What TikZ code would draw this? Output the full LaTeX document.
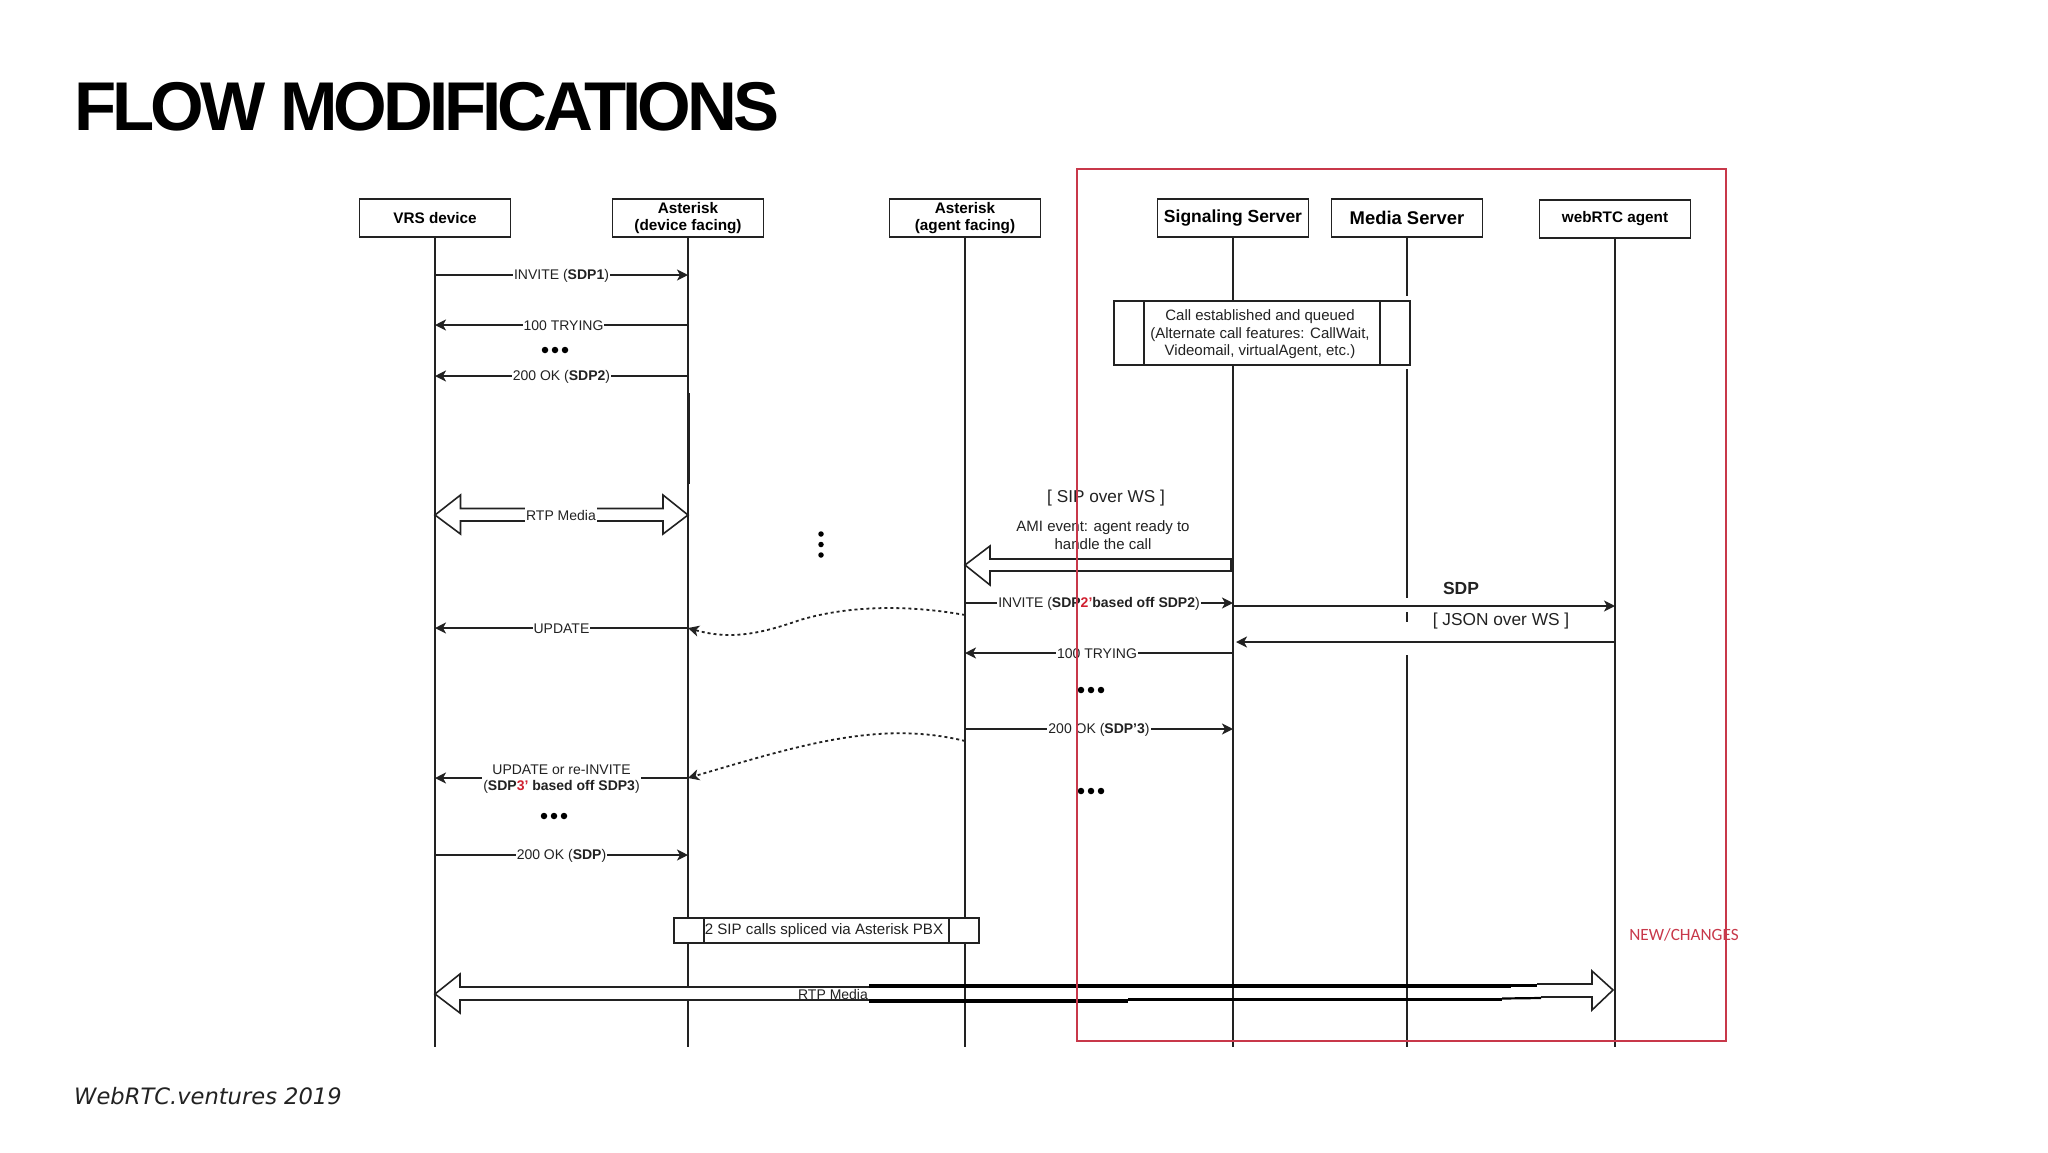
\documentclass[tikz,border=0pt]{standalone}
\usepackage{fontspec}
\setmainfont{Liberation Sans}
\newfontfamily\capfont{DejaVu Sans}
\newfontfamily\chgfont{Carlito}
\usetikzlibrary{arrows.meta}
\definecolor{redbox}{HTML}{C8384A}
\definecolor{ink}{HTML}{222222}
\definecolor{redtxt}{HTML}{D02030}
\tikzset{
  x=1pt,y=-1pt,
  actor/.style={draw=ink,line width=1.5pt,minimum width=151pt,minimum height=38pt,inner sep=0pt,align=center,font=\fontsize{15.3}{17}\selectfont\bfseries},
  life/.style={draw=ink,line width=1.6pt},
  msg/.style={draw=ink,line width=1.6pt,-{Stealth[length=11pt,width=11pt,inset=3pt]}},
  lbl/.style={fill=white,inner sep=1pt,yshift=-1pt,align=center,text=ink,font=\fontsize{14}{16.5}\selectfont},
  plain/.style={inner sep=0pt,align=center,text=ink,font=\fontsize{15}{17.5}\selectfont},
  dotted curve/.style={draw=ink,line width=1.8pt,dash pattern=on 3pt off 3pt,-{Stealth[length=11pt,width=11pt,inset=3pt]}},
  block/.style={draw=ink,line width=1.6pt,fill=white},
  fr/.style={draw=ink,line width=1.5pt,fill=white,minimum height=25pt,inner sep=0pt},
  dot/.style={circle,fill=black,minimum size=6.5pt,inner sep=0pt},
  vdot/.style={circle,fill=black,minimum size=5.5pt,inner sep=0pt},
}
\newcommand{\threedots}[3]{%
  \node[dot] (#1a) at (#2-10,#3) {};
  \node[dot] (#1b) at (#2,#3) {};
  \node[dot] (#1c) at (#2+10,#3) {};
}
\begin{document}
\begin{tikzpicture}
\useasboundingbox (0,0) rectangle (2048,1152);
\fill[white] (0,0) rectangle (2048,1152);

% title and caption
\node[anchor=base west,inner sep=0pt] (title) at (74,130) {\fontsize{69}{70}\selectfont\bfseries\addfontfeatures{LetterSpace=-5.8}FLOW MODIFICATIONS};
\node[anchor=base west,inner sep=0pt,text=ink] (cap) at (74,1104) {\capfont\itshape\fontsize{22.6}{26}\selectfont WebRTC.ventures 2019};

% actors
\node[actor] (vrs) at (435,218) {VRS device};
\node[actor] (dev) at (688,218) {Asterisk\\(device facing)};
\node[actor] (agt) at (965,218) {Asterisk\\(agent facing)};
\node[actor,font=\fontsize{17.5}{19}\selectfont\bfseries] (sig) at (1233,218) {Signaling Server};
\node[actor,font=\fontsize{18.4}{19}\selectfont\bfseries] (med) at (1407,218) {Media Server};
\node[actor] (web) at (1615,219) {webRTC agent};

% life lines
\coordinate (vrsE) at (435,1047);
\coordinate (devE) at (688,1047);
\coordinate (agtE) at (965,1047);
\coordinate (sigE) at (1233,1047);
\coordinate (medE) at (1407,1047);
\coordinate (webE) at (1615,1047);
\draw[life] (vrs.south) -- (vrsE);
\draw[life] (dev.south) -- (devE);
\draw[life] (agt.south) -- (agtE);
\draw[life] (sig.south) -- (sigE);
\draw[life] (web.south) -- (webE);
\draw[life] (med.south) -- (1407,296);
\draw[life] (1407,369) -- (1407,598);
\draw[life] (1407,612) -- (1407,622);
\draw[life] (1407,655) -- (medE);
\draw[draw=ink,line width=3pt] (688,393) -- (688,484);

% call established box
\node[fr,minimum width=296pt,minimum height=64pt] (call) at (1262,333) {};
\draw[draw=ink,line width=1.5pt] (1144,301) -- (1144,365) (1380,301) -- (1380,365);
\node[plain] (callt) at (1260,334.5) {Call established and queued\\(Alternate call features: CallWait,\\Videomail, virtualAgent, etc.)};

% splice box
\node[fr,minimum width=305pt] (spl) at (826.5,930.5) {};
\draw[draw=ink,line width=1.5pt] (704,918) -- (704,943) (949,918) -- (949,943);
\node[plain,font=\fontsize{15.1}{17}\selectfont] (splt) at (824,931) {2 SIP calls spliced via Asterisk PBX};

% messages
\draw[msg] (vrs.south |- 0,275) -- node[lbl] (m1) {INVITE (\textbf{SDP1})} (dev.south |- 0,275);
\draw[msg] (dev.south |- 0,325) -- node[lbl,xshift=2pt] (m2) {100 TRYING} (vrs.south |- 0,325);
\threedots{d1}{555}{350}
\draw[msg] (dev.south |- 0,376) -- node[lbl] (m3) {200 OK (\textbf{SDP2})} (vrs.south |- 0,376);

\draw[msg] (dev.south |- 0,628) -- node[lbl] (m4) {UPDATE} (vrs.south |- 0,628);
\draw[msg] (dev.south |- 0,778) -- node[lbl] (m5) {UPDATE or re-INVITE\\(\textbf{SDP\textcolor{redtxt}{3'} based off SDP3})} (vrs.south |- 0,778);
\threedots{d2}{554}{816}
\draw[msg] (vrs.south |- 0,855) -- node[lbl] (m6) {200 OK (\textbf{SDP})} (dev.south |- 0,855);

\draw[msg] (agt.south |- 0,603) -- node[lbl] (m7) {INVITE (\textbf{SDP\textcolor{redtxt}{2'}based off SDP2})} (sig.south |- 0,603);
\draw[msg] (sig.south |- 0,653) -- node[lbl,xshift=-2pt] (m8) {100 TRYING} (agt.south |- 0,653);
\threedots{d3}{1091}{690}
\draw[msg] (agt.south |- 0,729) -- node[lbl] (m9) {200 OK (\textbf{SDP'3})} (sig.south |- 0,729);
\threedots{d4}{1091}{791}

\draw[msg] (sig.south |- 0,606) -- (web.south |- 0,606);
\draw[msg] (web.south |- 0,642) -- (1236,642);
\node[plain,font=\fontsize{17.5}{18}\selectfont\bfseries] (sdp) at (1461,588) {SDP};
\node[plain,font=\fontsize{17.3}{19}\selectfont] (json) at (1501,621.5) {[ JSON over WS ]};
\node[plain,font=\fontsize{17.2}{19}\selectfont] (sipws) at (1106,498) {[ SIP over WS ]};
\node[plain] (ami) at (1103,535) {AMI event: agent ready to\\handle the call};

% dotted curves
\draw[dotted curve] (agt.south |- 0,615) .. controls (910,605) and (850,605) .. (800,620) .. controls (760,634) and (730,640) .. (dev.south |- 0,628);
\draw[dotted curve] (agt.south |- 0,741) .. controls (880,720) and (800,745) .. (dev.south |- 0,778);

% vertical dots
\node[vdot] (v1) at (821,534) {};
\node[vdot] (v2) at (821,544.5) {};
\node[vdot] (v3) at (821,555) {};

% block arrows
\draw[block] (435,515) -- (460.5,495) -- (460.5,508.5) -- (663,508.5) -- (663,495) -- (688,515) -- (663,534) -- (663,521) -- (460.5,521) -- (460.5,534) -- cycle;
\node[lbl,inner sep=1.5pt,inner ysep=4pt,yshift=1pt] (rtp1) at (561,515) {RTP Media};
\draw[block] (965,565) -- (990,546) -- (990,559) -- (1231,559) -- (1231,571) -- (990,571) -- (990,585) -- cycle;

% long RTP arrow
\draw[block] (869,987) -- (460,987) -- (460,974) -- (435,994) -- (460,1013) -- (460,1000) -- (869,1000);
\node[fill=white,minimum width=72pt,minimum height=11pt,inner sep=0pt] (gapL) at (833,993.5) {};
\node[plain,font=\fontsize{14}{16}\selectfont] (rtp2) at (833,994.5) {RTP Media};
\draw[block] (1537,984) -- (1592,984) -- (1592,971) -- (1613,990) -- (1592,1010) -- (1592,997) -- (1541,997);
\draw[draw=black,line width=3.2pt] (869,986) -- (1511,986);
\draw[draw=black,line width=2.2pt] (1511,985.5) -- (1537,985.5);
\draw[draw=black,line width=3.2pt] (869,1001) -- (1128,1001);
\draw[draw=black,line width=3.2pt] (1128,999.5) -- (1502,999.5);
\draw[draw=black,line width=2.2pt] (1502,998.5) -- (1541,998);

% changes frame
\node[draw=redbox,line width=1.3pt,minimum width=649pt,minimum height=872pt,inner sep=0pt] (frame) at (1401.5,605) {};
\node[inner sep=0pt,text=redbox] (newt) at (1684,935) {\chgfont\fontsize{17.2}{19}\selectfont NEW/CHANGES};
\end{tikzpicture}
\end{document}
